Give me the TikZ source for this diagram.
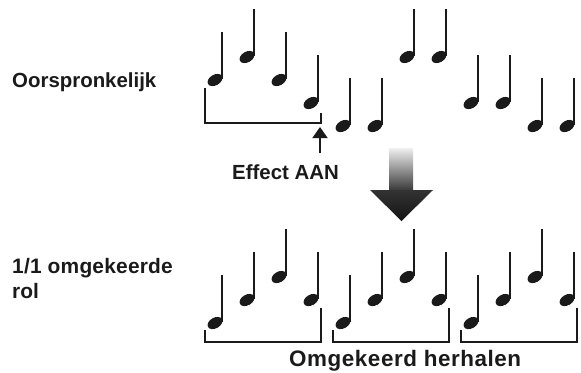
\documentclass[tikz,border=0pt]{standalone}
\usepackage{fontspec}
\setmainfont{Liberation Sans}
\usetikzlibrary{arrows.meta}
\definecolor{ink}{HTML}{1A1A1A}
\tikzset{
  lbl/.style={font=\fontsize{20.5}{25}\selectfont\bfseries, text=ink, inner sep=0pt},
  brk/.style={draw=ink, line width=1.5bp},
  qnote/.pic={
    \fill[ink, rotate=30] (0,0) ellipse [x radius=8bp, y radius=5.3bp];
    \fill[ink] (6,-1) rectangle (8.2,-48);
  }
}
\begin{document}
\begin{tikzpicture}[x=1bp, y=-1bp]
\useasboundingbox (0,0) rectangle (581,372);
\fill[white] (0,0) rectangle (581,372);

% labels
\node[lbl, anchor=base west] (orig) at (12,87) {Oorspronkelijk};
\node[lbl, anchor=base west] (eff) at (232,179) {Effect AAN};
\node[lbl, anchor=base west, align=left, font=\fontsize{21}{25}\selectfont\bfseries] (rev) at (12,298) {\addfontfeatures{LetterSpace=1}1/1 omgekeerde\\rol};
\node[lbl, anchor=base west, font=\fontsize{22.5}{27}\selectfont\bfseries] (rep) at (289,366.5) {\addfontfeatures{LetterSpace=2.5}Omgekeerd herhalen};

% top row notes
\foreach \x/\y [count=\i] in {215/80, 247/57, 279/80, 311/103,
                              343/126, 375/126, 407/57, 439/57,
                              471/103, 503/103, 535/126, 567/126}
  \pic (t\i) at (\x,\y) {qnote};

% bottom row notes
\foreach \g [count=\k] in {205,333,461}{
  \foreach \dy/\i in {323/0, 300/1, 277/2, 300/3}
    \pic (b\k\i) at ({\g+10+32*\i},\dy) {qnote};
  \draw[brk] (\g,330) -- (\g,342) -- ({\g+116},342) -- ({\g+116},308);
}

% top bracket
\draw[brk] (205,88) -- (205,123) -- (321,123) -- (321,113);

% small arrow
\coordinate (arrA) at (320,153);
\coordinate (arrB) at (320,127);
\draw[ink, line width=1.7bp, -{Triangle[length=11bp, width=15bp]}] (arrA) -- (arrB);

% big arrow
\shade[top color=black!6, bottom color=black!78] (389,148) rectangle (413,190.5);
\shade[top color=black!80, bottom color=black!92] (370,190) -- (433,190) -- (401.5,221) -- cycle;
\end{tikzpicture}
\end{document}
